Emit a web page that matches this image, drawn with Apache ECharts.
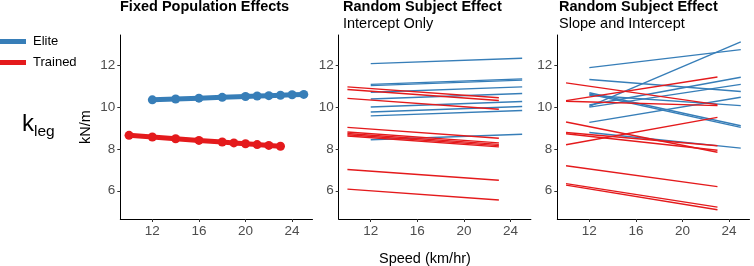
<!DOCTYPE html>
<html>
<head>
<meta charset="utf-8">
<script src="https://cdn.jsdelivr.net/npm/echarts@6/dist/echarts.min.js"></script>
<style>
html,body{margin:0;padding:0;background:#fff;}
#chart{width:754px;height:266px;}
</style>
</head>
<body>
<div id="chart"></div>
<script>
// ---- data ----
const xTicks = [12, 16, 20, 24];
const yTicks = [6, 8, 10, 12];
const groups = ['Elite', 'Trained'];
const fixedEliteSpeed = [12, 14, 16, 18, 20, 21, 22, 23, 24, 25];
const fixedEliteK = [10.35, 10.39, 10.43, 10.47, 10.51, 10.53, 10.55, 10.57, 10.59, 10.61];
const fixedTrainedSpeed = [10, 12, 14, 16, 18, 19, 20, 21, 22, 23];
const fixedTrainedK = [8.65, 8.57, 8.49, 8.41, 8.33, 8.29, 8.25, 8.21, 8.17, 8.13];
const eliteSpeedRange = [12, 25];
const trainedSpeedRange = [10, 23];
const icEliteStart = [12.08, 11.09, 11.03, 10.71, 10.39, 10.01, 9.77, 9.58, 8.44];
const icEliteEnd = [12.34, 11.35, 11.29, 10.97, 10.65, 10.27, 10.03, 9.84, 8.70];
const icTrainedStart = [10.97, 10.84, 10.42, 9.03, 8.81, 8.74, 8.68, 8.62, 7.02, 6.08];
const icTrainedEnd = [10.45, 10.32, 9.90, 8.51, 8.29, 8.22, 8.16, 8.10, 6.50, 5.56];
const slEliteStart = [11.89, 10.04, 11.32, 10.69, 10.63, 10.57, 9.27, 8.79, 10.10, 10.00];
const slEliteEnd = [12.75, 13.12, 10.75, 9.11, 9.03, 10.07, 10.47, 8.04, 11.43, 11.09];
const slTrainedStart = [11.16, 10.31, 10.28, 9.29, 8.79, 8.73, 8.20, 7.20, 6.34, 6.27];
const slTrainedEnd = [10.12, 11.44, 10.07, 7.84, 8.15, 7.94, 9.51, 6.20, 5.22, 5.09];

// ---- styling ----
const BLUE = '#377EB8', RED = '#E41A1C';
const FONT = 'Liberation Sans, Arial, Helvetica, sans-serif';
const gridLefts = [120.3, 338.7, 557.3];
const GW = 192.2, GT = 35, GH = 184;

const grids = gridLefts.map(l => ({ left: l, top: GT, width: GW, height: GH, containLabel: false }));
const axisCommon = {
  axisLine: { show: true, lineStyle: { color: '#000', width: 1 } },
  axisTick: { show: true, length: 3, lineStyle: { color: '#333', width: 1 } },
  splitLine: { show: false },
  axisLabel: { color: '#4d4d4d', fontSize: 13.5, fontFamily: FONT, margin: 5 }
};
const xAxes = gridLefts.map((_, i) => ({
  type: 'value', gridIndex: i, min: 9.25, max: 25.75,
  axisLine: axisCommon.axisLine, splitLine: axisCommon.splitLine,
  axisTick: Object.assign({}, axisCommon.axisTick, { customValues: xTicks }),
  axisLabel: Object.assign({}, axisCommon.axisLabel, { customValues: xTicks })
}));
const yAxes = gridLefts.map((_, i) => ({
  type: 'value', gridIndex: i, min: 4.65, max: 13.45,
  name: i === 0 ? 'kN/m' : '', nameLocation: 'middle', nameRotate: 90, nameGap: 27,
  nameTextStyle: { color: '#000', fontSize: 14.5, fontFamily: FONT },
  axisLine: axisCommon.axisLine, splitLine: axisCommon.splitLine,
  axisTick: Object.assign({}, axisCommon.axisTick, { customValues: yTicks }),
  axisLabel: Object.assign({}, axisCommon.axisLabel, { customValues: yTicks })
}));

const series = [];
series.push({
  name: groups[0], type: 'line', xAxisIndex: 0, yAxisIndex: 0,
  data: fixedEliteSpeed.map((s, j) => [s, fixedEliteK[j]]),
  symbol: 'circle', symbolSize: 9, itemStyle: { color: BLUE },
  lineStyle: { color: BLUE, width: 5 }, z: 3
});
series.push({
  name: groups[1], type: 'line', xAxisIndex: 0, yAxisIndex: 0,
  data: fixedTrainedSpeed.map((s, j) => [s, fixedTrainedK[j]]),
  symbol: 'circle', symbolSize: 9, itemStyle: { color: RED },
  lineStyle: { color: RED, width: 5 }, z: 3
});
function addLines(idx, starts, ends, range, color, name) {
  starts.forEach((s, j) => {
    series.push({
      name: name, type: 'line', xAxisIndex: idx, yAxisIndex: idx,
      data: [[range[0], s], [range[1], ends[j]]],
      showSymbol: false, symbol: 'none', itemStyle: { color: color },
      lineStyle: { color: color, width: 1.4 }, z: 2
    });
  });
}
addLines(1, icEliteStart, icEliteEnd, eliteSpeedRange, BLUE, groups[0]);
addLines(1, icTrainedStart, icTrainedEnd, trainedSpeedRange, RED, groups[1]);
addLines(2, slEliteStart, slEliteEnd, eliteSpeedRange, BLUE, groups[0]);
addLines(2, slTrainedStart, slTrainedEnd, trainedSpeedRange, RED, groups[1]);

const titleStyle = { color: '#000', fontSize: 14.5, fontWeight: 'bold', fontFamily: FONT };
const subStyle = { color: '#000', fontSize: 14.5, fontFamily: FONT };
const option = {
  animation: false,
  backgroundColor: '#fff',
  title: [
    { text: 'Fixed Population Effects', left: 120, top: -1, padding: 0, textStyle: titleStyle },
    { text: 'Random Subject Effect', subtext: 'Intercept Only', left: 343, top: -1, padding: 0, itemGap: 2, textStyle: titleStyle, subtextStyle: subStyle },
    { text: 'Random Subject Effect', subtext: 'Slope and Intercept', left: 559, top: -1, padding: 0, itemGap: 2, textStyle: titleStyle, subtextStyle: subStyle }
  ],
  legend: {
    data: groups, orient: 'vertical', left: 0, top: 35, padding: 0,
    icon: 'rect', itemWidth: 26, itemHeight: 5, itemGap: 8,
    textStyle: { color: '#000', fontSize: 13, fontFamily: FONT, padding: [0, 0, 0, 2] },
    selectedMode: false
  },
  grid: grids, xAxis: xAxes, yAxis: yAxes, series: series,
  graphic: [
    { type: 'text', left: 425 - 46, top: 251, style: { text: 'Speed (km/hr)', fill: '#000', font: '14.5px ' + FONT } },
    { type: 'text', left: 22, top: 112, style: { text: 'k', fill: '#000', font: '24px ' + FONT } },
    { type: 'text', left: 34, top: 124, style: { text: 'leg', fill: '#000', font: '15.5px ' + FONT } }
  ]
};
const chart = echarts.init(document.getElementById('chart'), null, { renderer: 'canvas' });
chart.setOption(option);
</script>
</body>
</html>
